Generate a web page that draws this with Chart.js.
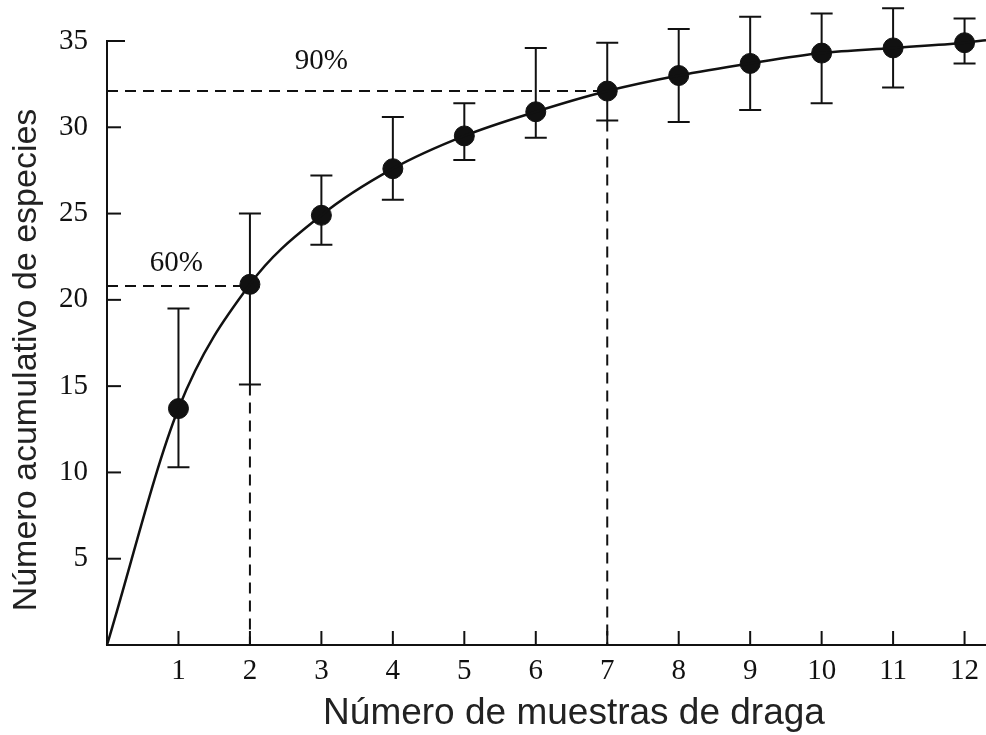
<!DOCTYPE html>
<html>
<head>
<meta charset="utf-8">
<script src="https://cdn.jsdelivr.net/npm/chart.js@4"></script>
<style>
  html, body { margin: 0; padding: 0; background: #fff; }
  #wrap { width: 986px; height: 735px; }
</style>
</head>
<body>
<div id="wrap"><canvas id="curva"></canvas></div>
<script>
// Datos
const samples = [1, 2, 3, 4, 5, 6, 7, 8, 9, 10, 11, 12];
const meanSpecies = [13.7, 20.9, 24.9, 27.6, 29.5, 30.9, 32.1, 33.0, 33.7, 34.3, 34.6, 34.9];
const errLow  = [10.3, 15.1, 23.2, 25.8, 28.1, 29.4, 30.4, 30.3, 31.0, 31.4, 32.3, 33.7];
const errHigh = [19.5, 25.0, 27.2, 30.6, 31.4, 34.6, 34.9, 35.7, 36.4, 36.6, 36.9, 36.3];
const curveStart = { x: 0, y: 0 };
const curveEnd = { x: 12.3, y: 35.05 };
const xTicks = [1, 2, 3, 4, 5, 6, 7, 8, 9, 10, 11, 12];
const yTicks = [5, 10, 15, 20, 25, 30, 35];

const xTitle = 'Número de muestras de draga';
const yTitle = 'Número acumulativo de especies';

// lineas de referencia (60% y 90%)
const refLines = [
  { label: '60%', x: 2, y: 20.8, dropFrom: 15.1, labelX: 0.97, labelY: 22.1 },
  { label: '90%', x: 7, y: 32.1, dropFrom: 30.4, labelX: 3.0, labelY: 33.8 }
];

const curveData = [curveStart]
  .concat(samples.map((s, i) => ({ x: s, y: meanSpecies[i] })))
  .concat([curveEnd]);

const serif = '"Liberation Serif", "DejaVu Serif", serif';
const sans = '"Liberation Sans", Arial, sans-serif';

// dibuja lineas punteadas, barras de error y marcas hacia dentro
const extras = {
  id: 'extras',
  beforeDatasetsDraw(chart) {
    const { ctx, chartArea } = chart;
    const x = chart.scales.x, y = chart.scales.y;
    ctx.save();
    ctx.strokeStyle = '#111';
    ctx.lineWidth = 2;

    // lineas punteadas
    ctx.setLineDash([11, 7]);
    refLines.forEach(r => {
      ctx.beginPath();
      ctx.moveTo(x.getPixelForValue(0), y.getPixelForValue(r.y));
      ctx.lineTo(x.getPixelForValue(r.x), y.getPixelForValue(r.y));
      ctx.moveTo(x.getPixelForValue(r.x), y.getPixelForValue(r.dropFrom));
      ctx.lineTo(x.getPixelForValue(r.x), y.getPixelForValue(0));
      ctx.stroke();
    });
    ctx.setLineDash([]);

    // etiquetas 60% / 90%
    ctx.fillStyle = '#111';
    ctx.font = '29px ' + serif;
    ctx.textAlign = 'center';
    ctx.textBaseline = 'middle';
    refLines.forEach(r => {
      ctx.fillText(r.label, x.getPixelForValue(r.labelX), y.getPixelForValue(r.labelY));
    });

    // barras de error
    ctx.lineWidth = 2;
    samples.forEach((s, i) => {
      const px = x.getPixelForValue(s);
      const lo = y.getPixelForValue(errLow[i]);
      const hi = y.getPixelForValue(errHigh[i]);
      ctx.beginPath();
      ctx.moveTo(px, lo); ctx.lineTo(px, hi);
      ctx.moveTo(px - 11, lo); ctx.lineTo(px + 11, lo);
      ctx.moveTo(px - 11, hi); ctx.lineTo(px + 11, hi);
      ctx.stroke();
    });

    // marcas de los ejes (hacia dentro)
    yTicks.forEach(v => {
      const py = y.getPixelForValue(v);
      ctx.beginPath();
      ctx.moveTo(chartArea.left, py);
      ctx.lineTo(chartArea.left + (v === 35 ? 18 : 14), py);
      ctx.stroke();
    });
    xTicks.forEach(v => {
      const px = x.getPixelForValue(v);
      ctx.beginPath();
      ctx.moveTo(px, chartArea.bottom);
      ctx.lineTo(px, chartArea.bottom - 14);
      ctx.stroke();
    });
    ctx.restore();
  },
  afterDraw(chart) {
    // titulos de los ejes
    const ctx = chart.ctx;
    ctx.save();
    ctx.fillStyle = '#222';
    ctx.textAlign = 'center';
    ctx.textBaseline = 'middle';
    ctx.font = '37px ' + sans;
    ctx.fillText(xTitle, 574, 714);
    ctx.translate(27, 360);
    ctx.rotate(-Math.PI / 2);
    ctx.font = '34px ' + sans;
    ctx.fillText(yTitle, 0, 0);
    ctx.restore();
  }
};

new Chart(document.getElementById('curva'), {
  type: 'scatter',
  data: {
    datasets: [
      {
        label: 'curva',
        data: curveData,
        showLine: true,
        borderColor: '#111',
        borderWidth: 2.5,
        pointRadius: 0,
        cubicInterpolationMode: 'monotone',
        clip: false
      },
      {
        label: 'medias',
        data: samples.map((s, i) => ({ x: s, y: meanSpecies[i] })),
        showLine: false,
        pointRadius: 10,
        pointBackgroundColor: '#111',
        pointBorderColor: '#111',
        clip: false
      }
    ]
  },
  options: {
    responsive: true,
    maintainAspectRatio: false,
    animation: false,
    events: [],
    layout: { autoPadding: false, padding: { top: 41, right: 0, left: 0, bottom: 0 } },
    plugins: {
      legend: { display: false },
      tooltip: { enabled: false }
    },
    scales: {
      x: {
        type: 'linear',
        min: 0,
        max: 12.3,
        afterBuildTicks: s => { s.ticks = xTicks.map(v => ({ value: v })); },
        afterFit: s => { s.height = 90; s.paddingLeft = 0; s.paddingRight = 0; },
        grid: { display: false, drawTicks: false },
        border: { color: '#111', width: 2 },
        ticks: {
          color: '#111',
          font: { family: serif, size: 29 },
          padding: 9,
          maxRotation: 0
        },
        title: { display: false, text: xTitle }
      },
      y: {
        type: 'linear',
        min: 0,
        max: 35,
        afterBuildTicks: s => { s.ticks = yTicks.map(v => ({ value: v })); },
        afterFit: s => { s.width = 107; s.paddingTop = 0; s.paddingBottom = 0; },
        grid: { display: false, drawTicks: false },
        border: { color: '#111', width: 2 },
        ticks: {
          color: '#111',
          font: { family: serif, size: 29 },
          padding: 19
        },
        title: { display: false, text: yTitle }
      }
    }
  },
  plugins: [extras]
});
</script>
</body>
</html>
